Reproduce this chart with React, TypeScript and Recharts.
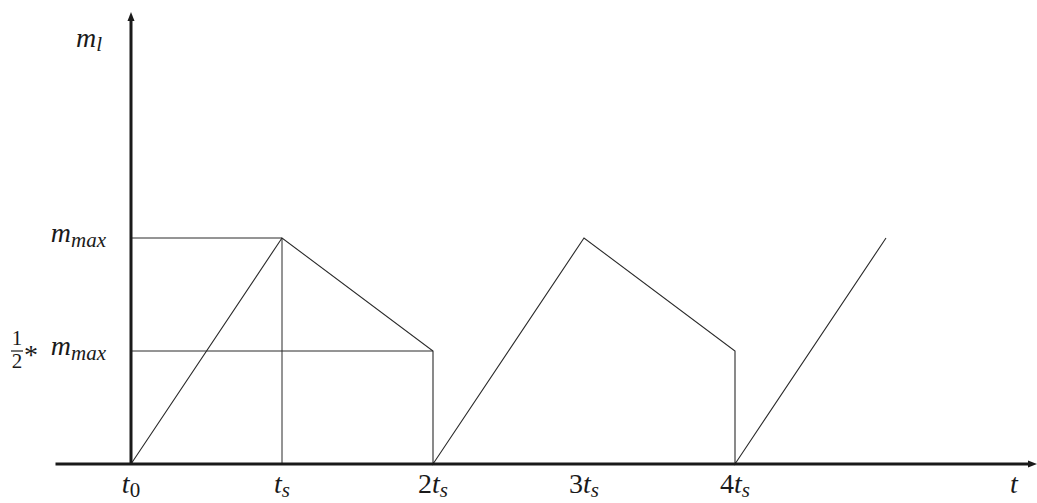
import React from 'react';
import { LineChart, Line, XAxis, YAxis, ReferenceLine } from 'recharts';

// Sawtooth mass profile m_l(t), t in units of t_s, m in units of m_max
const timePoints = [0, 1, 2, 2, 3, 4, 4, 5];
const massValues = [0, 1, 0.5, 0, 1, 0.5, 0, 1];

// x-axis ticks
const xTickValues = [0, 1, 2, 3, 4];
const xTickCoefs = ['', '', '2', '3', '4'];
const xTickSubs = ['0', 's', 's', 's', 's'];

// y-axis ticks
const yTickValues = [0.5, 1];
const yTickFractions = ['1/2', ''];

// thin guide lines: [x1, y1, x2, y2]
const guideX1 = [0, 0, 1];
const guideY1 = [1, 0.5, 0];
const guideX2 = [1, 2, 1];
const guideY2 = [1, 0.5, 1];

// axis extents
const xAxisRange = [-0.5, 6];
const yAxisRange = [0, 2];

const data = timePoints.map((t, i) => ({ t, m: massValues[i] }));

const FONT = "'Liberation Serif', 'DejaVu Serif', 'Times New Roman', serif";
const INK = '#1a1a1a';
const MAIN = 28;
const SUB = 21;

const txt = (size: number, italic = false): React.CSSProperties => ({
  fontFamily: FONT,
  fontSize: size,
  fontStyle: italic ? 'italic' : 'normal',
});

const Arrow = (p: any) => {
  const { x1, y1, x2, y2 } = p;
  const dx = x2 - x1;
  const dy = y2 - y1;
  const len = Math.sqrt(dx * dx + dy * dy) || 1;
  const ux = dx / len;
  const uy = dy / len;
  const L = 9;
  const W = 3.5;
  const bx = x2 - ux * L;
  const by = y2 - uy * L;
  const pts = `${x2},${y2} ${bx - uy * W},${by + ux * W} ${bx + uy * W},${by - ux * W}`;
  return (
    <g>
      <line x1={x1} y1={y1} x2={bx + ux * 2} y2={by + uy * 2} stroke={INK} strokeWidth={3} />
      <polygon points={pts} fill={INK} />
    </g>
  );
};

const XTick = (props: any) => {
  const { x, y, payload } = props;
  const i = xTickValues.indexOf(payload.value);
  if (i < 0) return null;
  const coef = xTickCoefs[i];
  const sub = xTickSubs[i];
  return (
    <text x={x} y={y + 29} textAnchor="middle" style={txt(MAIN)} fill={INK}>
      {coef ? <tspan style={txt(MAIN)}>{coef}</tspan> : null}
      <tspan style={txt(MAIN, true)}>t</tspan>
      <tspan style={txt(SUB, sub !== '0')} dy={4}>
        {sub}
      </tspan>
    </text>
  );
};

const YTick = (props: any) => {
  const { x, y, payload } = props;
  const i = yTickValues.indexOf(payload.value);
  if (i < 0) return null;
  const frac = yTickFractions[i];
  const right = x - 25;
  return (
    <g>
      <text x={right} y={y + 4} textAnchor="end" style={txt(MAIN)} fill={INK}>
        <tspan style={txt(MAIN, true)}>m</tspan>
        <tspan style={txt(SUB, true)} dy={5}>
          max
        </tspan>
      </text>
      {frac ? (
        <g>
          <text x={x - 100} y={y + 13} textAnchor="middle" style={txt(MAIN)} fill={INK}>
            *
          </text>
          <text x={x - 114} y={y - 6} textAnchor="middle" style={txt(SUB)} fill={INK}>
            {frac.split('/')[0]}
          </text>
          <line x1={x - 120} x2={x - 108} y1={y} y2={y} stroke={INK} strokeWidth={1.2} />
          <text x={x - 114} y={y + 17} textAnchor="middle" style={txt(SUB)} fill={INK}>
            {frac.split('/')[1]}
          </text>
        </g>
      ) : null}
    </g>
  );
};

const YLabel = (props: any) => {
  const vb = props.viewBox || {};
  const right = vb.x + vb.width - 29;
  return (
    <text x={right} y={vb.y + 35} textAnchor="end" style={txt(MAIN)} fill={INK}>
      <tspan style={txt(MAIN, true)}>m</tspan>
      <tspan style={txt(SUB, true)} dy={4}>
        l
      </tspan>
    </text>
  );
};

const XLabel = (props: any) => {
  const vb = props.viewBox || {};
  return (
    <text x={vb.x + vb.width - 23} y={vb.y + 29} textAnchor="middle" style={txt(MAIN, true)} fill={INK}>
      t
    </text>
  );
};

export default function App() {
  return (
    <div style={{ position: 'absolute', left: 0, top: 0, width: 1037, height: 503, background: '#fff' }}>
      <LineChart width={1037} height={503} data={data} margin={{ top: 12, right: 0, bottom: 0, left: 0 }}>
        <XAxis
          dataKey="t"
          type="number"
          domain={[0, 6]}
          ticks={xTickValues}
          tick={(p: any) => <XTick {...p} />}
          tickLine={false}
          axisLine={false}
          tickSize={0}
          tickMargin={0}
          height={39}
          interval={0}
          label={<XLabel />}
        />
        <YAxis
          type="number"
          domain={yAxisRange}
          ticks={yTickValues}
          tick={(p: any) => <YTick {...p} />}
          tickLine={false}
          axisLine={false}
          tickSize={0}
          tickMargin={0}
          width={131}
          interval={0}
          label={<YLabel />}
        />
        {guideX1.map((gx, i) => (
          <ReferenceLine
            key={i}
            segment={[
              { x: gx, y: guideY1[i] },
              { x: guideX2[i], y: guideY2[i] },
            ]}
            stroke="#2a2a2a"
            strokeWidth={1}
          />
        ))}
        <Line
          dataKey="m"
          type="linear"
          stroke="#2a2a2a"
          strokeWidth={1.1}
          dot={false}
          activeDot={false}
          isAnimationActive={false}
        />
        <ReferenceLine
          segment={[
            { x: xAxisRange[0], y: 0 },
            { x: xAxisRange[1], y: 0 },
          ]}
          ifOverflow="visible"
          shape={<Arrow />}
        />
        <ReferenceLine
          segment={[
            { x: 0, y: yAxisRange[0] },
            { x: 0, y: yAxisRange[1] },
          ]}
          ifOverflow="visible"
          shape={<Arrow />}
        />
      </LineChart>
    </div>
  );
}
